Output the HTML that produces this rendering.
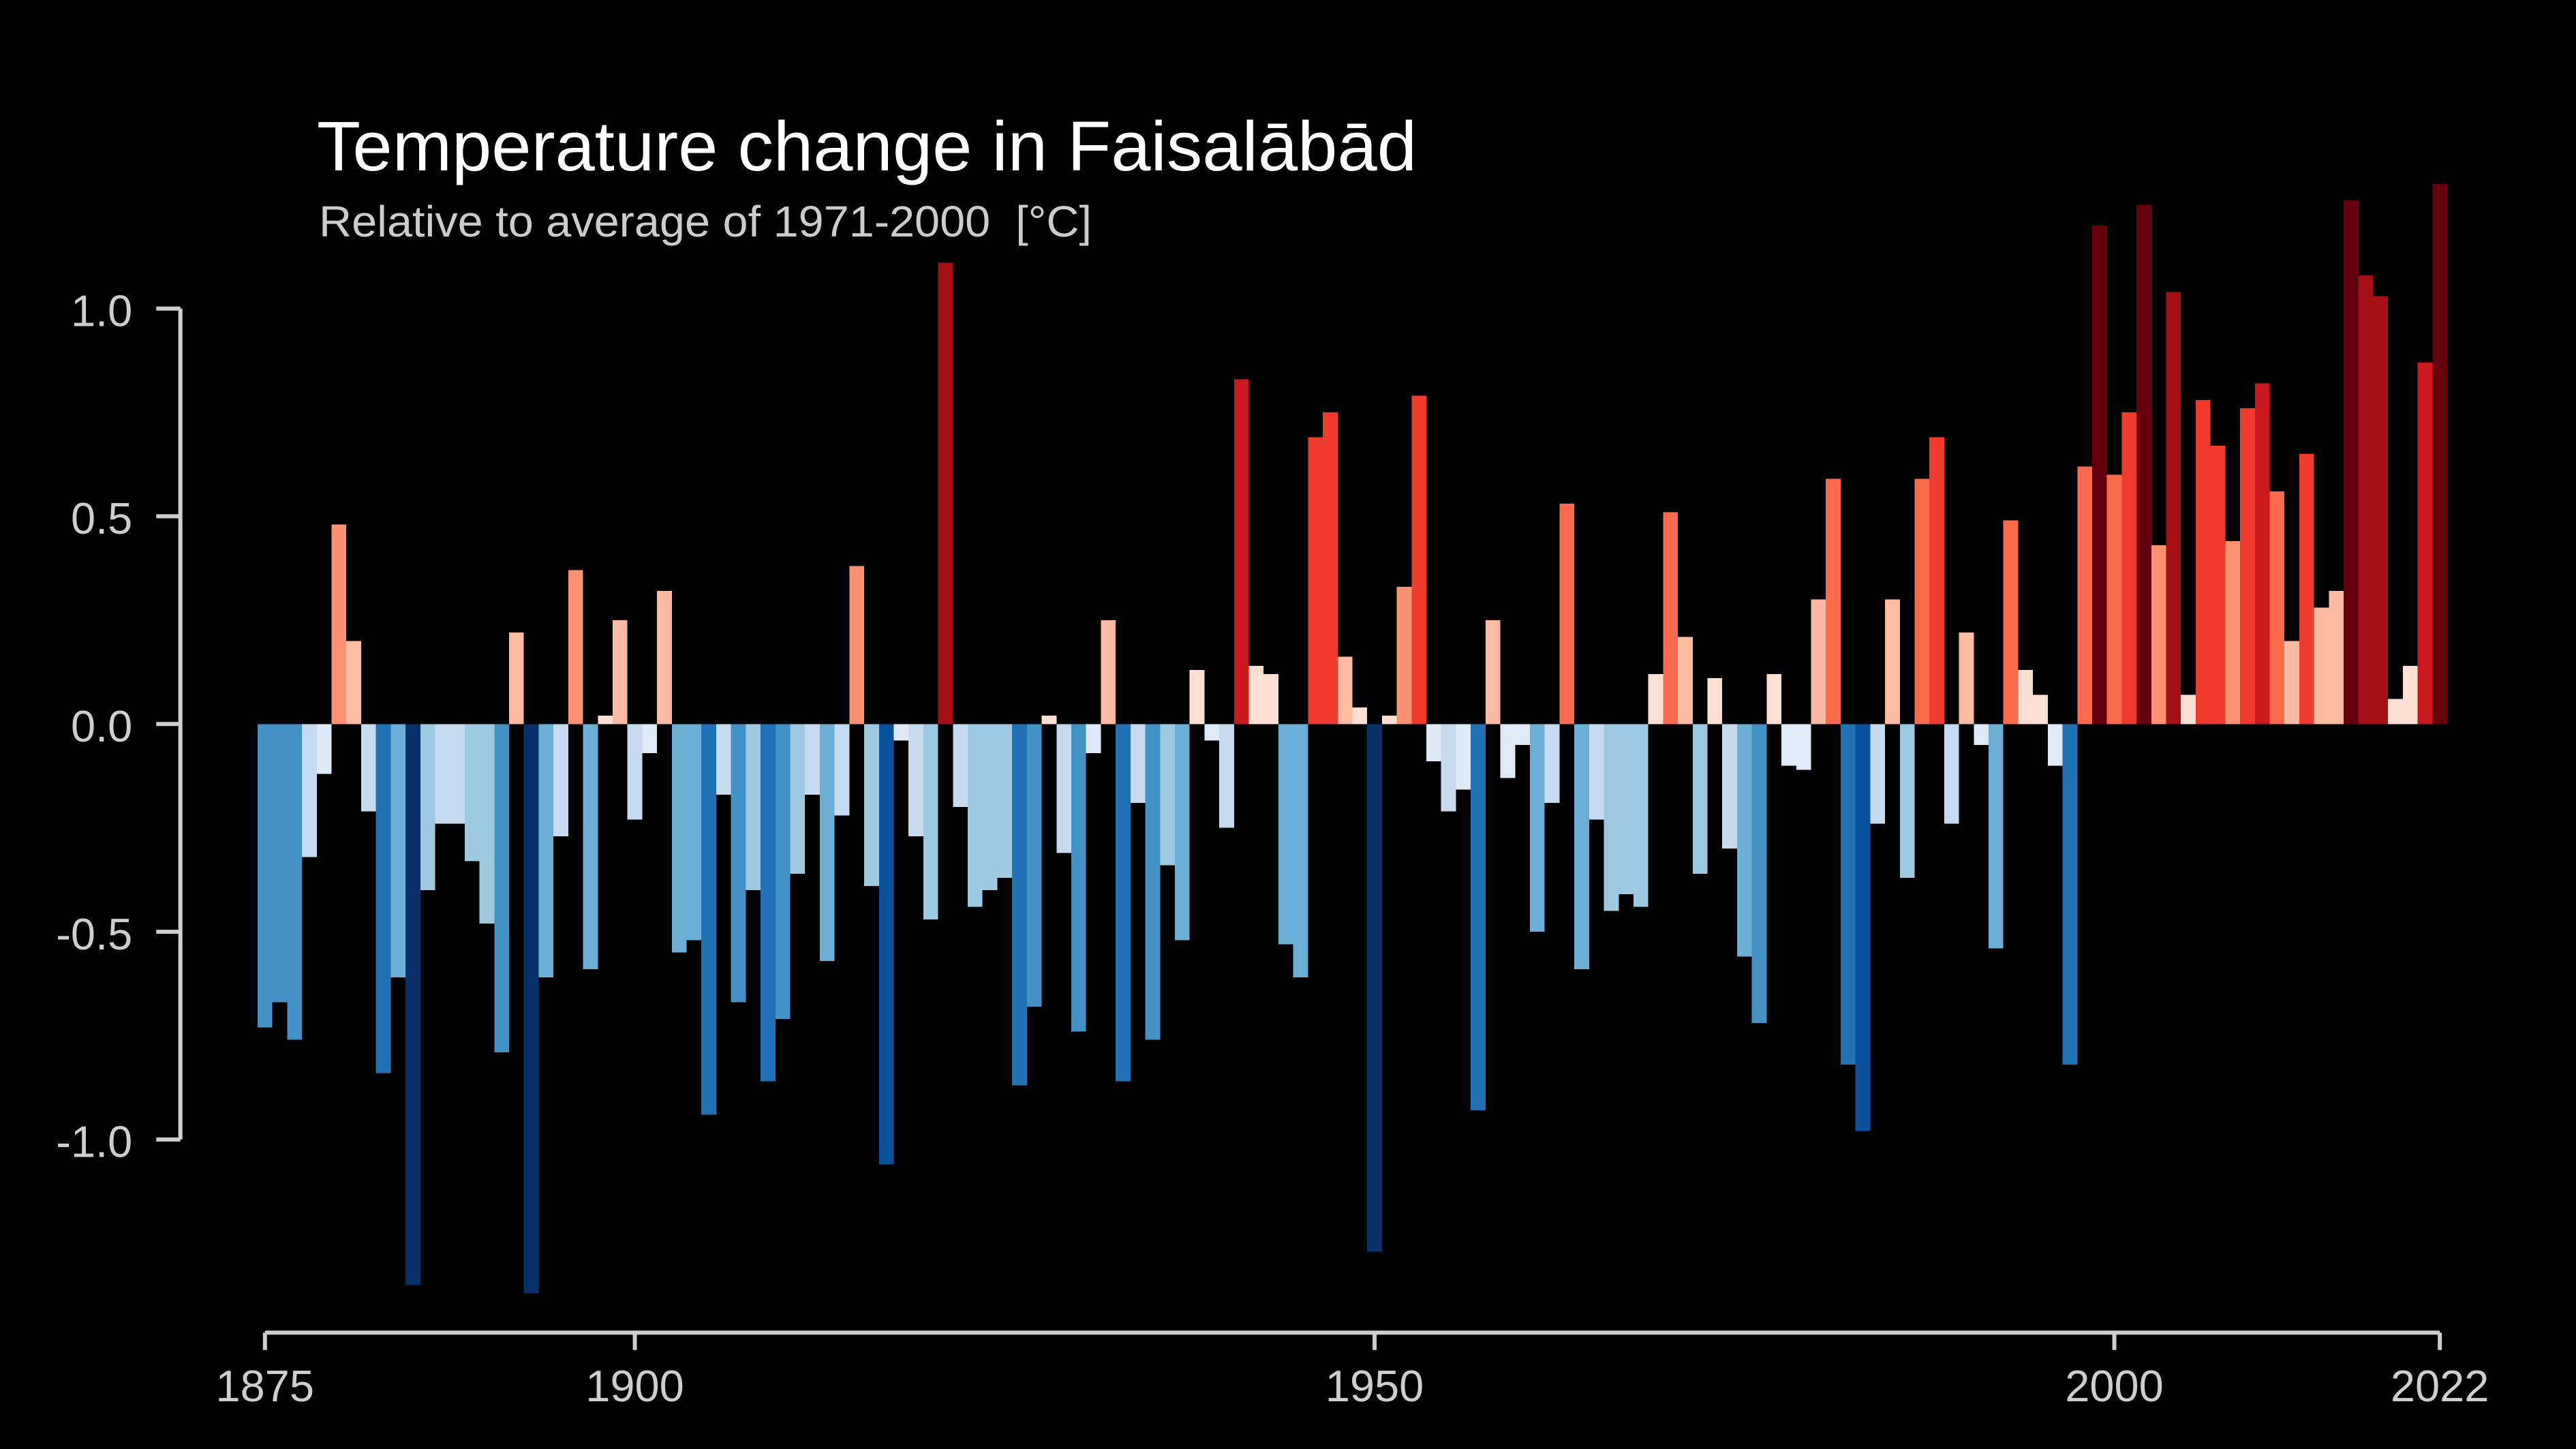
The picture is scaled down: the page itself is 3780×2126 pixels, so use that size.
<!DOCTYPE html>
<html lang="en">
<head>
<meta charset="utf-8">
<title>Temperature change in Faisalābād</title>
<style>
  html, body { margin: 0; padding: 0; background: #000; }
  svg { display: block; font-family: "Liberation Sans", "DejaVu Sans", sans-serif; }
</style>
</head>
<body>
<svg id="chart" xmlns="http://www.w3.org/2000/svg" width="3780" height="2126" viewBox="0 0 3780 2126">
  <rect x="0" y="0" width="3780" height="2126" fill="#000000"/>
  <text x="465" y="250" font-size="103" fill="#ffffff" textLength="1614" lengthAdjust="spacingAndGlyphs">Temperature change in Faisalābād</text>
  <text x="468" y="347" font-size="64" fill="#cccccc" textLength="1134" lengthAdjust="spacingAndGlyphs" xml:space="preserve" style="white-space:pre">Relative to average of 1971-2000  [°C]</text>
  <g id="bars"></g>
  <g id="y-axis"></g>
  <g id="x-axis"></g>
</svg>
<script>
const firstYear = 1875;
const anomalies = [
  -0.73, -0.67, -0.76, -0.32, -0.12, 0.48, 0.20, -0.21, -0.84, -0.61,
  -1.35, -0.40, -0.24, -0.24, -0.33, -0.48, -0.79, 0.22, -1.37, -0.61,
  -0.27, 0.37, -0.59, 0.02, 0.25, -0.23, -0.07, 0.32, -0.55, -0.52,
  -0.94, -0.17, -0.67, -0.40, -0.86, -0.71, -0.36, -0.17, -0.57, -0.22,
  0.38, -0.39, -1.06, -0.04, -0.27, -0.47, 1.11, -0.20, -0.44, -0.40,
  -0.37, -0.87, -0.68, 0.02, -0.31, -0.74, -0.07, 0.25, -0.86, -0.19,
  -0.76, -0.34, -0.52, 0.13, -0.04, -0.25, 0.83, 0.14, 0.12, -0.53,
  -0.61, 0.69, 0.75, 0.162, 0.04, -1.27, 0.02, 0.33, 0.79, -0.09,
  -0.21, -0.158, -0.93, 0.25, -0.13, -0.05, -0.50, -0.19, 0.53, -0.59,
  -0.23, -0.45, -0.41, -0.44, 0.12, 0.51, 0.21, -0.36, 0.11, -0.30,
  -0.56, -0.72, 0.12, -0.10, -0.11, 0.30, 0.59, -0.82, -0.98, -0.24,
  0.30, -0.37, 0.59, 0.69, -0.24, 0.22, -0.05, -0.54, 0.49, 0.13,
  0.07, -0.10, -0.82, 0.62, 1.20, 0.60, 0.75, 1.25, 0.43, 1.04,
  0.07, 0.78, 0.67, 0.44, 0.76, 0.82, 0.56, 0.20, 0.65, 0.28,
  0.32, 1.26, 1.08, 1.03, 0.06, 0.14, 0.87, 1.30
];
const binEdges = [0.16, 0.325, 0.485, 0.645, 0.81, 0.96, 1.15];
const warmColors = ['#fee0d2', '#fcbba1', '#fc9272', '#fb6a4a', '#ef3b2c', '#cb181d', '#a50f15', '#67000d'];
const coolColors = ['#deebf7', '#c6dbef', '#9ecae1', '#6baed6', '#4292c6', '#2171b5', '#08519c', '#08306b'];
const yTicks = [1.0, 0.5, 0.0, -0.5, -1.0];
const yTickLabels = ['1.0', '0.5', '0.0', '-0.5', '-1.0'];
const xTicks = [1875, 1900, 1950, 2000, 2022];

const SVG_NS = 'http://www.w3.org/2000/svg';
const AXIS_COLOR = '#cecece';
const BAR_WIDTH = 21.71;

function xScale(year) {
  return 388.8 + (year - firstYear) * BAR_WIDTH;
}
function yScale(value) {
  return 1062.3 - value * 609.6;
}
function barColor(value) {
  const magnitude = Math.abs(value);
  let bin = 0;
  while (bin < binEdges.length && magnitude >= binEdges[bin]) bin++;
  return value >= 0 ? warmColors[bin] : coolColors[bin];
}

const barsGroup = document.getElementById('bars');
anomalies.forEach(function (value, i) {
  const year = firstYear + i;
  const rect = document.createElementNS(SVG_NS, 'rect');
  
  
  const top = Math.min(yScale(value), yScale(0));
  rect.setAttribute('x', xScale(year) - BAR_WIDTH / 2);
  rect.setAttribute('y', top);
  rect.setAttribute('width', BAR_WIDTH);
  rect.setAttribute('height', Math.abs(yScale(value) - yScale(0)));
  rect.setAttribute('fill', barColor(value));
  rect.setAttribute('shape-rendering', 'crispEdges');
  barsGroup.appendChild(rect);
});

const yGroup = document.getElementById('y-axis');
const yLine = document.createElementNS(SVG_NS, 'line');


yLine.setAttribute('x1', 264.7);
yLine.setAttribute('x2', 264.7);
yLine.setAttribute('y1', yScale(yTicks[0]));
yLine.setAttribute('y2', yScale(yTicks[yTicks.length - 1]));
yLine.setAttribute('stroke', AXIS_COLOR);
yLine.setAttribute('stroke-width', 6);
yGroup.appendChild(yLine);
yTicks.forEach(function (tick, i) {
  const mark = document.createElementNS(SVG_NS, 'line');
  
  
  mark.setAttribute('x1', 229.3);
  mark.setAttribute('x2', 264.7);
  mark.setAttribute('y1', yScale(tick));
  mark.setAttribute('y2', yScale(tick));
  mark.setAttribute('stroke', AXIS_COLOR);
  mark.setAttribute('stroke-width', 6);
  yGroup.appendChild(mark);
  const label = document.createElementNS(SVG_NS, 'text');
  
  
  label.setAttribute('x', 194.3);
  label.setAttribute('y', yScale(tick) + 25.7);
  label.setAttribute('font-size', 65);
  label.setAttribute('text-anchor', 'end');
  label.setAttribute('fill', AXIS_COLOR);
  label.textContent = yTickLabels[i];
  yGroup.appendChild(label);
});

const xGroup = document.getElementById('x-axis');
const xLine = document.createElementNS(SVG_NS, 'line');


xLine.setAttribute('x1', xScale(xTicks[0]));
xLine.setAttribute('x2', xScale(xTicks[xTicks.length - 1]));
xLine.setAttribute('y1', 1955.3);
xLine.setAttribute('y2', 1955.3);
xLine.setAttribute('stroke', AXIS_COLOR);
xLine.setAttribute('stroke-width', 6);
xGroup.appendChild(xLine);
xTicks.forEach(function (year) {
  const mark = document.createElementNS(SVG_NS, 'line');
  
  
  mark.setAttribute('x1', xScale(year));
  mark.setAttribute('x2', xScale(year));
  mark.setAttribute('y1', 1955.3);
  mark.setAttribute('y2', 1980.7);
  mark.setAttribute('stroke', AXIS_COLOR);
  mark.setAttribute('stroke-width', 6);
  xGroup.appendChild(mark);
  const label = document.createElementNS(SVG_NS, 'text');
  
  
  label.setAttribute('x', xScale(year));
  label.setAttribute('y', 2056);
  label.setAttribute('font-size', 65);
  label.setAttribute('text-anchor', 'middle');
  label.setAttribute('fill', AXIS_COLOR);
  label.textContent = String(year);
  xGroup.appendChild(label);
});
</script>
</body>
</html>
